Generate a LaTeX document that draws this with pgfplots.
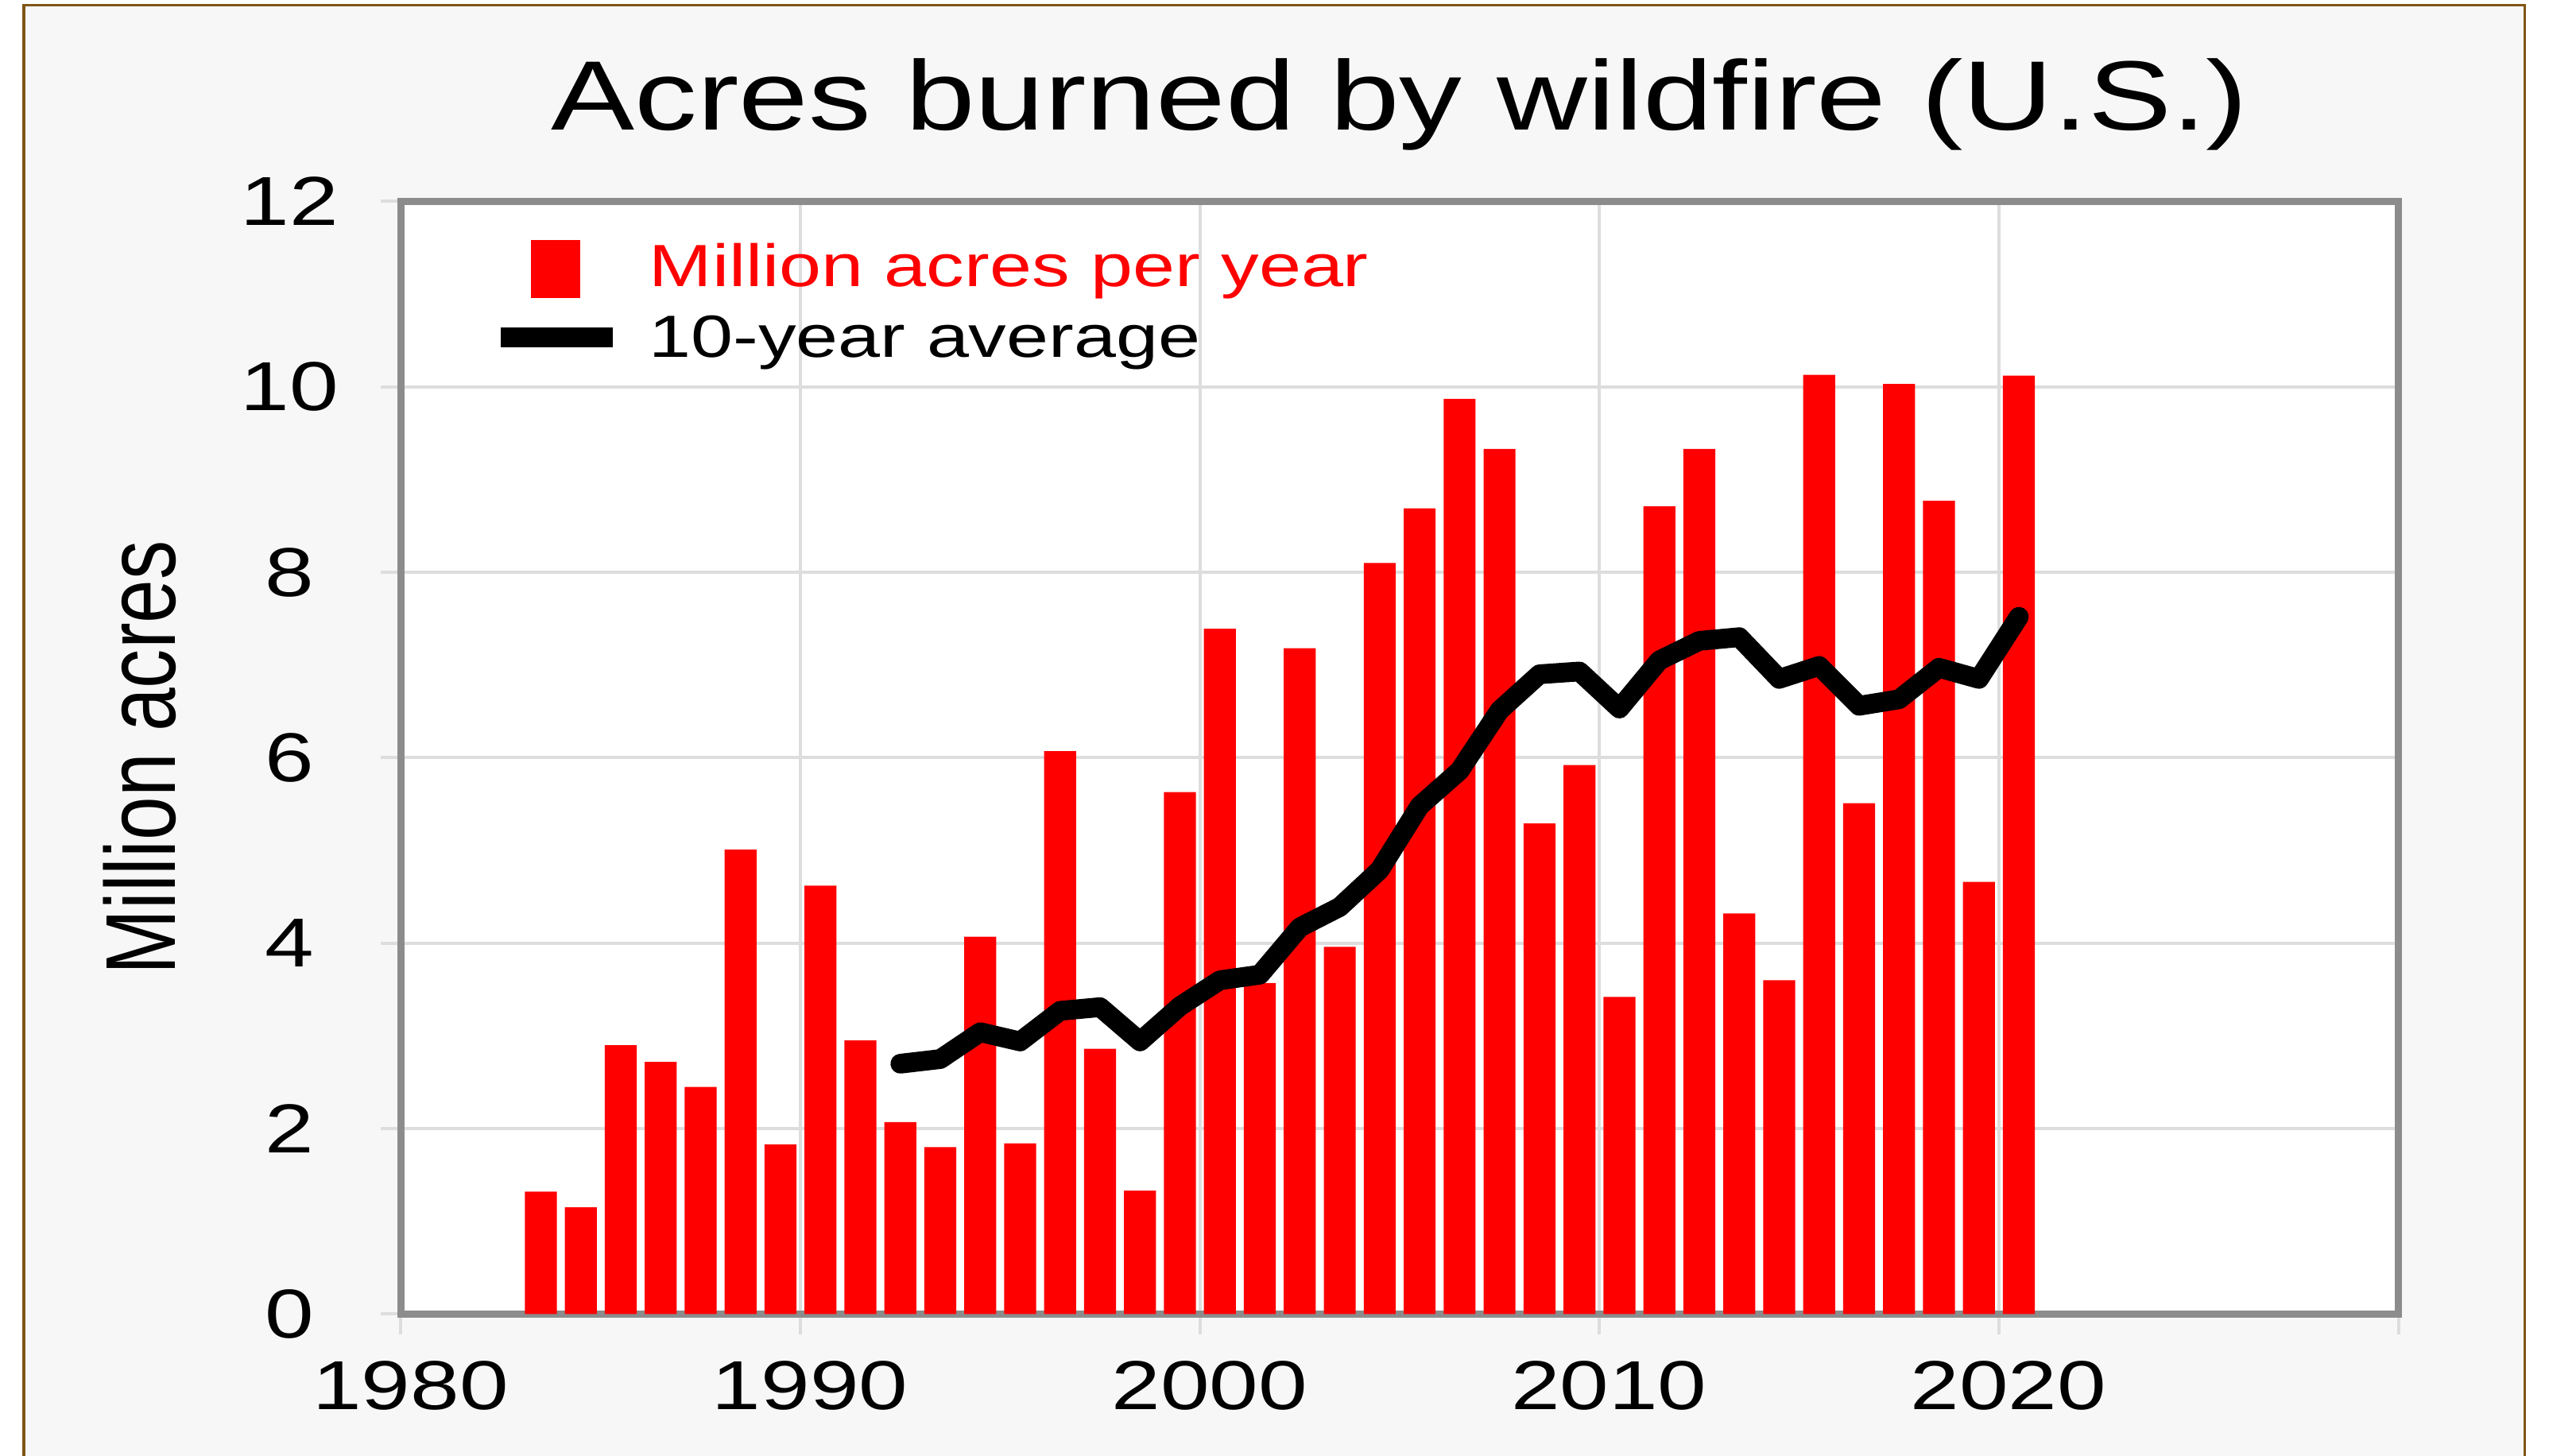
\documentclass[border=0pt]{standalone}
\usepackage{fontspec}
\setmainfont{Liberation Sans}[FakeStretch=1.27]
\newfontfamily\ylabfont{Liberation Sans}
\usepackage{graphicx}
\usepackage{pgfplots}
\usepackage{pgfplotstable}
\pgfplotsset{compat=1.18}

\definecolor{bggray}{RGB}{247,247,247}
\definecolor{framebrown}{RGB}{128,86,20}
\definecolor{axgray}{RGB}{140,140,140}
\definecolor{gridgray}{RGB}{221,221,221}

% million acres burned per year
\pgfplotstableread{
year acres
1983 1.32
1984 1.15
1985 2.90
1986 2.72
1987 2.45
1988 5.01
1989 1.83
1990 4.62
1991 2.95
1992 2.07
1993 1.80
1994 4.07
1995 1.84
1996 6.07
1997 2.86
1998 1.33
1999 5.63
2000 7.39
2001 3.57
2002 7.18
2003 3.96
2004 8.10
2005 8.69
2006 9.87
2007 9.33
2008 5.29
2009 5.92
2010 3.42
2011 8.71
2012 9.33
2013 4.32
2014 3.60
2015 10.13
2016 5.51
2017 10.03
2018 8.77
2019 4.66
2020 10.12
}\acrestab

% trailing 10-year average
\pgfplotstableread{
year avg
1992 2.70
1993 2.75
1994 3.04
1995 2.94
1996 3.27
1997 3.31
1998 2.94
1999 3.32
2000 3.60
2001 3.66
2002 4.17
2003 4.39
2004 4.79
2005 5.48
2006 5.86
2007 6.51
2008 6.90
2009 6.93
2010 6.53
2011 7.05
2012 7.26
2013 7.30
2014 6.85
2015 6.99
2016 6.56
2017 6.63
2018 6.97
2019 6.85
2020 7.52
}\avgtab

\begin{document}
\begin{tikzpicture}
\useasboundingbox (-126.125bp,-44.65bp) rectangle (675.625bp,413.35bp);
\fill[white] (-126.125bp,-44.65bp) rectangle (675.625bp,413.35bp);
\filldraw[fill=bggray, draw=framebrown, line width=0.8bp] (-118.6bp,-60bp) rectangle (667.9bp,411.7bp);
\begin{axis}[
    scale only axis,
    width=628.25bp, height=350bp,
    xmin=1980, xmax=2030, ymin=0, ymax=12,
    xtick={1980,1990,...,2030},
    xticklabels={1980,1990,2000,2010,2020,{}},
    ytick={0,2,...,12},
    yticklabels={0,2,4,6,8,10,12},
    /pgf/number format/assume math mode=true,
    tick pos=left,
    tick align=outside,
    major tick length=6.5bp,
    tick style={gridgray, line width=1bp},
    grid=major,
    grid style={gridgray, line width=1bp},
    axis line style={axgray, line width=2.2bp},
    axis background/.style={fill=white},
    ticklabel style={font=\fontsize{21.8bp}{26bp}\selectfont, inner sep=0pt},
    yticklabel style={anchor=center, xshift=-28.6bp},
    xticklabel style={anchor=north, yshift=-8.15bp, xshift=3bp},
    title={Acres burned by wildfire (U.S.)},
    title style={font=\fontsize{31bp}{37bp}\selectfont, at={(0.5,1.04743)}, anchor=base, inner sep=0pt},
    ylabel={\scalebox{1}[1.27]{\ylabfont Million acres}},
    ylabel style={font=\fontsize{24.6bp}{30bp}\selectfont, at={(rel axis cs:-0.13084,0.5)}, anchor=center, inner sep=0pt},
    legend style={at={(0.04513,0.96529)}, anchor=north west, draw=none, fill=none,
        inner sep=0pt, outer sep=0pt, font=\fontsize{18.75bp}{22bp}\selectfont,
        row sep=5.42bp, column sep=8.2bp,
        nodes={inner sep=0pt}, cells={anchor=base west}},
]
\addplot[ybar, bar width=0.8, fill=red, draw=none,
    legend image code/.code={\fill[red] (9.35bp,-3.6bp) rectangle (25bp,14.65bp);}]
    table[x expr=\thisrow{year}+0.5, y=acres] {\acrestab};
\addlegendentry{\textcolor{red}{Million acres per year}}
\addplot[black, line width=6.2bp, line join=round, line cap=round,
    legend image code/.code={\draw[black, line width=6.25bp, line cap=butt] (0bp,6.1bp) -- (35.25bp,6.1bp);}]
    table[x expr=\thisrow{year}+0.5, y=avg] {\avgtab};
\addlegendentry{10-year average}
\end{axis}
\end{tikzpicture}
\end{document}
